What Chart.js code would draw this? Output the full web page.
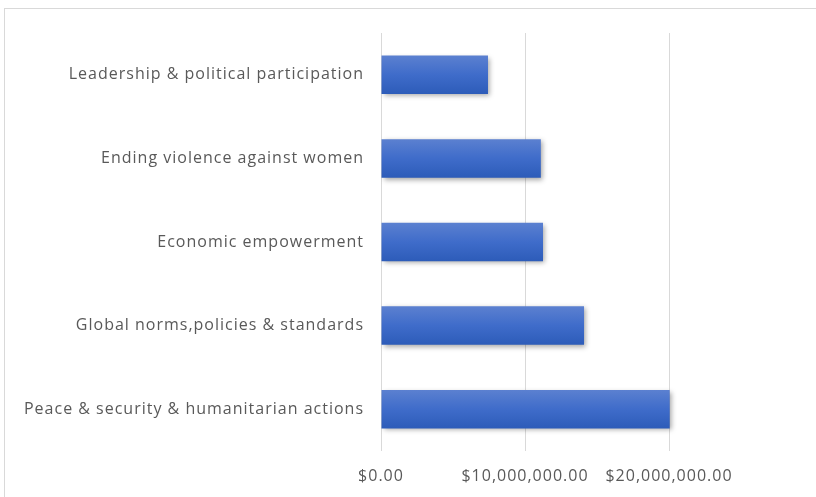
<!DOCTYPE html>
<html>
<head>
<meta charset="utf-8">
<script src="https://cdn.jsdelivr.net/npm/chart.js@4"></script>
<style>
  html, body { margin: 0; padding: 0; background: #fff; }
  #wrap { width: 816px; height: 497px; }
</style>
</head>
<body>
<div id="wrap"><canvas id="chart"></canvas></div>
<script>
// Data
const categories = [
    "Leadership & political participation",
    "Ending violence against women",
    "Economic empowerment",
    "Global norms,policies & standards",
    "Peace & security & humanitarian actions"
];
const amounts = [7430000, 11100000, 11250000, 14100000, 20050000];
const tickValues = [0, 10000000, 20000000];

const money = v => "$" + v.toLocaleString("en-US", { minimumFractionDigits: 2, maximumFractionDigits: 2 });

// Excel-like vertical gradient on each bar
function barGradient(context) {
    const chart = context.chart;
    const yScale = chart.scales.y;
    if (!yScale || context.dataIndex === undefined) return "#4472c4";
    const cy = yScale.getPixelForValue(context.dataIndex);
    if (!Number.isFinite(cy)) return "#4472c4";
    const half = 19;
    const g = chart.ctx.createLinearGradient(0, cy - half, 0, cy + half);
    g.addColorStop(0, "#5b80d0");
    g.addColorStop(0.5, "#3f6cca");
    g.addColorStop(1, "#2d5cb9");
    return g;
}

// chart outline, wider label spacing, bar shadow
const frame = {
    id: "frame",
    beforeDraw(chart) {
        const ctx = chart.ctx;
        ctx.save();
        ctx.strokeStyle = "#d9d9d9";
        ctx.lineWidth = 1;
        ctx.strokeRect(4.5, 8.5, 900, 700);
        ctx.restore();
        ctx.letterSpacing = "1px";
    },
    afterDraw(chart) {
        chart.ctx.letterSpacing = "0px";
    },
    beforeDatasetsDraw(chart) {
        const ctx = chart.ctx;
        ctx.save();
        ctx.shadowColor = "rgba(0,0,0,0.35)";
        ctx.shadowBlur = 5;
        ctx.shadowOffsetX = 2;
        ctx.shadowOffsetY = 2;
    },
    afterDatasetsDraw(chart) {
        chart.ctx.restore();
    }
};

new Chart(document.getElementById("chart").getContext("2d"), {
    type: "bar",
    data: {
        labels: categories,
        datasets: [{
            data: amounts,
            backgroundColor: barGradient,
            borderWidth: 0,
            barPercentage: 0.46,
            categoryPercentage: 1
        }]
    },
    plugins: [frame],
    options: {
        indexAxis: "y",
        responsive: true,
        maintainAspectRatio: false,
        animation: false,
        layout: { padding: { top: 33, right: 3, left: 0, bottom: 0 } },
        scales: {
            x: {
                min: 0,
                max: 30000000,
                afterBuildTicks: scale => {
                    scale.ticks = tickValues.map(v => ({ value: v }));
                },
                afterFit: scale => { scale.height = 46; },
                grid: { color: "#d9d9d9", drawTicks: false },
                border: { display: false },
                ticks: {
                    padding: 16,
                    color: "#595959",
                    font: { family: "Open Sans", size: 16 },
                    callback: v => money(v)
                }
            },
            y: {
                afterFit: scale => { scale.width = 381; },
                grid: { display: false },
                border: { display: false },
                ticks: {
                    padding: 9,
                    color: "#595959",
                    font: { family: "Open Sans", size: 16 }
                }
            }
        },
        plugins: {
            legend: { display: false },
            tooltip: { enabled: false }
        }
    }
});
</script>
</body>
</html>
